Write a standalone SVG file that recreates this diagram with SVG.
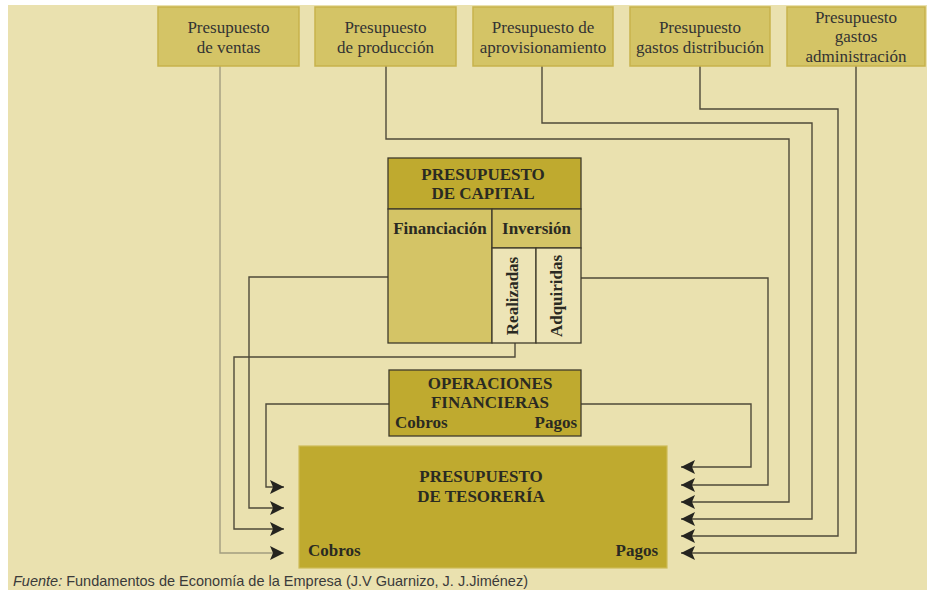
<svg xmlns="http://www.w3.org/2000/svg" width="927" height="590" viewBox="0 0 927 590">
<style>
.bg{fill:#EAE1AF}
.top rect{fill:#D4C466;stroke:#C7B24C;stroke-width:1.5}
.top text{font-family:"Liberation Serif",serif;font-size:17px;fill:#333;text-anchor:middle}
.bold{font-family:"Liberation Serif",serif;font-size:17px;font-weight:bold;fill:#2a2a22}
.mid{text-anchor:middle}
.end{text-anchor:end}
.dk{stroke:#3f3b2c;stroke-width:1.3}
.conn path{fill:none;stroke:#4f4a3a;stroke-width:1.4}
.conn path.light{stroke:#A39D80}
.foot{font-family:"Liberation Sans",Arial,sans-serif;font-size:14.5px;fill:#3a3a3a}
</style>
<defs>
<marker id="ah" viewBox="0 0 14 14" refX="14" refY="7" markerWidth="14" markerHeight="14" markerUnits="userSpaceOnUse" orient="auto">
<path d="M0,0 L14,7 L0,14 L3,7 Z" fill="#25241f"/>
</marker>
</defs>
<rect width="927" height="590" fill="#ffffff"/>
<rect class="bg" x="8" y="5" width="919" height="585"/>

<g id="connectors" class="conn">
<path class="light" d="M220,66 V553 H284" marker-end="url(#ah)"/>
<path d="M515,343 V357 H234 V529 H284" marker-end="url(#ah)"/>
<path d="M388,277 H249 V508 H284" marker-end="url(#ah)"/>
<path d="M389,404 H266 V487 H284" marker-end="url(#ah)"/>
<path d="M581,404 H751 V467 H681" marker-end="url(#ah)"/>
<path d="M581,278 H768 V485 H681" marker-end="url(#ah)"/>
<path d="M386,66 V139 H789 V502 H681" marker-end="url(#ah)"/>
<path d="M542,66 V123 H812 V519 H681" marker-end="url(#ah)"/>
<path d="M700,66 V109 H838 V536 H681" marker-end="url(#ah)"/>
<path d="M856,66 V553 H681" marker-end="url(#ah)"/>
</g>

<g id="ventas" class="top">
<rect x="158" y="7" width="141" height="59"/>
<text x="228.5" y="33">Presupuesto</text>
<text x="228.5" y="53">de ventas</text>
</g>
<g id="produccion" class="top">
<rect x="315" y="7" width="141" height="59"/>
<text x="385.5" y="33">Presupuesto</text>
<text x="385.5" y="53">de producción</text>
</g>
<g id="aprovisionamiento" class="top">
<rect x="473" y="7" width="140" height="59"/>
<text x="543" y="33">Presupuesto de</text>
<text x="543" y="53">aprovisionamiento</text>
</g>
<g id="distribucion" class="top">
<rect x="630" y="7" width="140" height="59"/>
<text x="700" y="33">Presupuesto</text>
<text x="700" y="53">gastos distribución</text>
</g>
<g id="administracion" class="top">
<rect x="787" y="7" width="138" height="59"/>
<text x="856" y="23">Presupuesto</text>
<text x="856" y="42">gastos</text>
<text x="856" y="62">administración</text>
</g>

<g id="capital">
<rect x="388" y="158" width="193" height="51" fill="#BFAA2F" class="dk"/>
<rect x="388" y="209" width="104" height="134" fill="#D4C466" class="dk"/>
<rect x="492" y="209" width="89" height="39" fill="#D4C466" class="dk"/>
<rect x="492" y="248" width="44" height="95" fill="#EDE4B6" class="dk"/>
<rect x="536" y="248" width="45" height="95" fill="#EDE4B6" class="dk"/>
<text class="bold mid" x="483" y="180">PRESUPUESTO</text>
<text class="bold mid" x="483" y="199">DE CAPITAL</text>
<text class="bold mid" x="440" y="234">Financiación</text>
<text class="bold mid" x="536.5" y="234">Inversión</text>
<text class="bold mid" transform="translate(518,296) rotate(-90)">Realizadas</text>
<text class="bold mid" transform="translate(562,296) rotate(-90)">Adquiridas</text>
</g>

<g id="operaciones">
<rect x="389" y="370" width="192" height="66" fill="#BFAA2F" class="dk"/>
<text class="bold mid" x="490" y="389">OPERACIONES</text>
<text class="bold mid" x="490" y="408">FINANCIERAS</text>
<text class="bold" x="395" y="428">Cobros</text>
<text class="bold end" x="577" y="428">Pagos</text>
</g>

<g id="tesoreria">
<rect x="299" y="446" width="368" height="122" fill="#BFAA2F" stroke="#CDBB58" stroke-width="1.2"/>
<text class="bold mid" x="481" y="482">PRESUPUESTO</text>
<text class="bold mid" x="481" y="502">DE TESORERÍA</text>
<text class="bold" x="308" y="556">Cobros</text>
<text class="bold end" x="658" y="556">Pagos</text>
</g>

<text class="foot" x="13" y="586"><tspan font-style="italic">Fuente:</tspan> Fundamentos de Economía de la Empresa (J.V Guarnizo, J. J.Jiménez)</text>
</svg>
